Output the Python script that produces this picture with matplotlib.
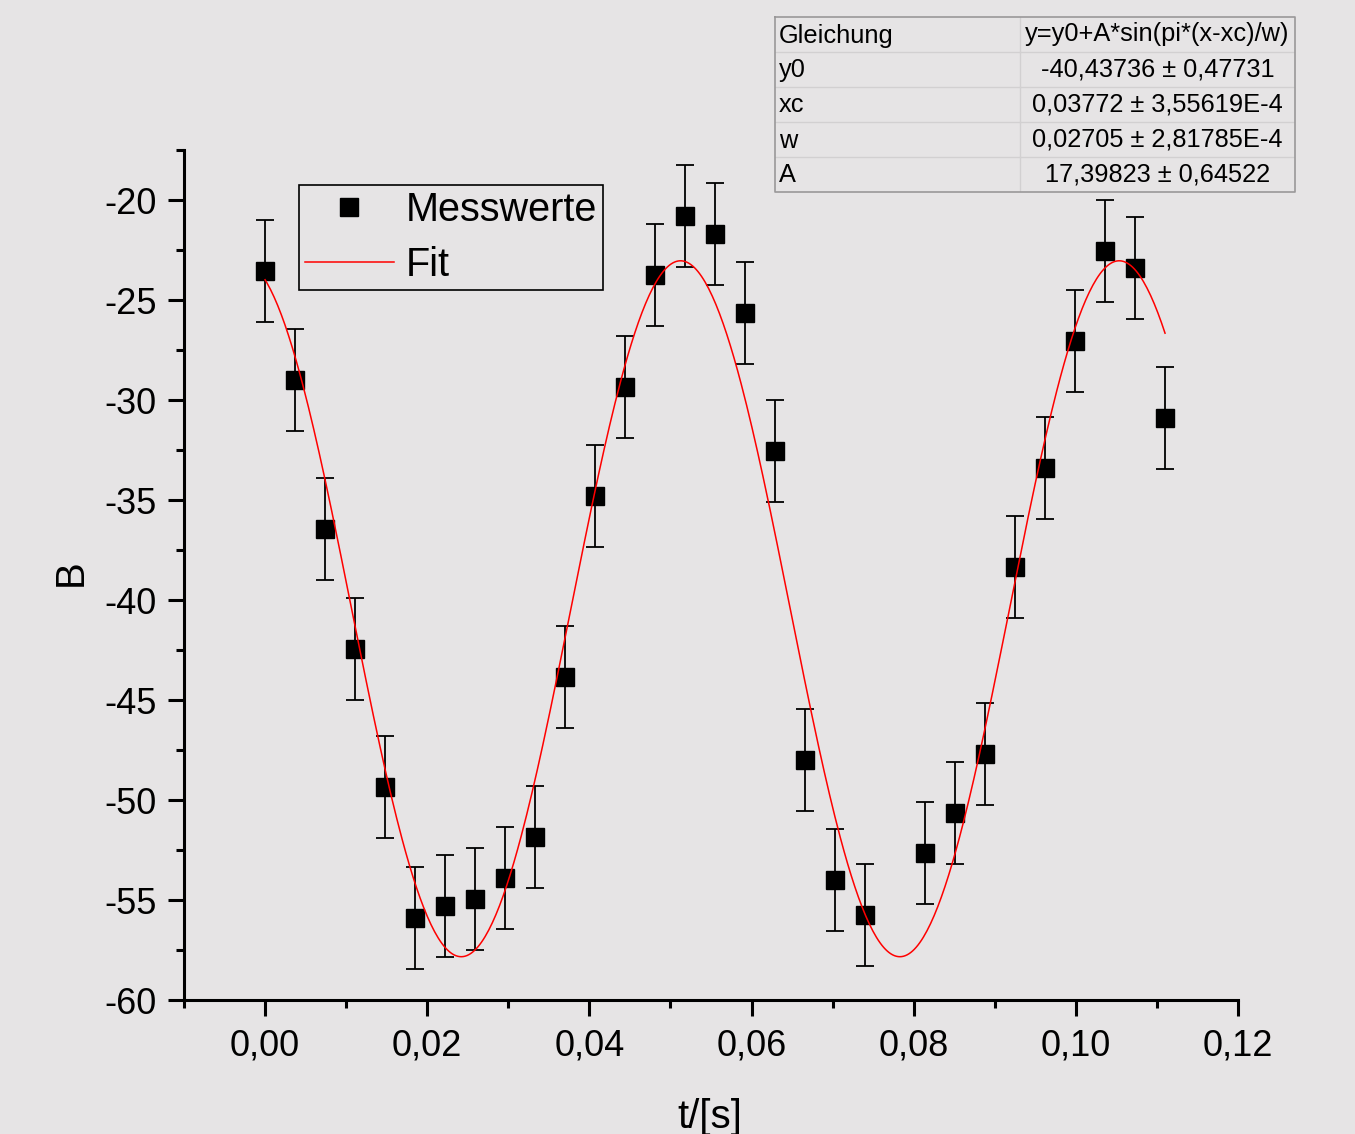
import numpy as np
import matplotlib.pyplot as plt
from matplotlib.lines import Line2D
from matplotlib.ticker import MultipleLocator, FuncFormatter

plt.rcParams['font.family'] = ['Liberation Sans', 'DejaVu Sans']

# Messwerte (t in s, B)
t = [0.0, 0.0037, 0.0074, 0.0111, 0.0148, 0.0185, 0.0222, 0.0259, 0.0296, 0.0333,
     0.0370, 0.0407, 0.0444, 0.0481, 0.0518, 0.0555, 0.0592, 0.0629, 0.0666, 0.0703,
     0.0740, 0.0814, 0.0851, 0.0888, 0.0925, 0.0962, 0.0999, 0.1036, 0.1073, 0.1110]
B = [-23.55, -29.0, -36.45, -42.45, -49.35, -55.9, -55.3, -54.95, -53.9, -51.85,
     -43.85, -34.8, -29.35, -23.75, -20.8, -21.7, -25.65, -32.55, -48.0, -54.0,
     -55.75, -52.65, -50.65, -47.7, -38.35, -33.4, -27.05, -22.55, -23.4, -30.9]
B_err = 2.55

# Fitparameter (aus der Tabelle)
y0 = -40.43736
xc = 0.03772
w = 0.02705
A = 17.39823

table_rows = [
    ['Gleichung', 'y=y0+A*sin(pi*(x-xc)/w)'],
    ['y0', '-40,43736 \u00b1 0,47731'],
    ['xc', '0,03772 \u00b1 3,55619E-4'],
    ['w', '0,02705 \u00b1 2,81785E-4'],
    ['A', '17,39823 \u00b1 0,64522'],
]

bg = '#e6e4e5'
W, H = 1355, 1134
fig = plt.figure(figsize=(W / 100, H / 100), dpi=100, facecolor=bg)
ax = fig.add_axes([184 / W, 1 - 1000 / H, (1238 - 184) / W, 850 / H], facecolor=bg)

ax.errorbar(t, B, yerr=B_err, fmt='s', color='black', ms=13, elinewidth=1.3,
            ecolor='black', capsize=6.5, capthick=1.3, zorder=3)

tf = np.linspace(t[0], t[-1], 500)
Bf = y0 + A * np.sin(np.pi * (tf - xc) / w)
ax.plot(tf, Bf, color='red', lw=1.1, zorder=4)

ax.set_xlim(-0.01, 0.12)
ax.set_ylim(-60, -17.5)
for s in ['top', 'right']:
    ax.spines[s].set_visible(False)
for s in ['left', 'bottom']:
    ax.spines[s].set_linewidth(2.2)

ax.xaxis.set_major_locator(MultipleLocator(0.02))
ax.xaxis.set_minor_locator(MultipleLocator(0.01))
ax.yaxis.set_major_locator(MultipleLocator(5))
ax.yaxis.set_minor_locator(MultipleLocator(2.5))
ax.xaxis.set_major_formatter(FuncFormatter(lambda v, p: f'{v:.2f}'.replace('.', ',').replace('-0,00', '0,00')))
ax.yaxis.set_major_formatter(FuncFormatter(lambda v, p: f'{v:.0f}'))
ax.tick_params(which='major', direction='out', length=11.5, width=2.2, labelsize=26)
ax.tick_params(which='minor', direction='out', length=6, width=2.2)
ax.tick_params(axis='y', pad=8)
ax.tick_params(axis='x', pad=9)

fig.text(71 / W, 1 - 573 / H, 'B', rotation=90, ha='center', va='center', fontsize=29)
fig.text(710 / W, 1 - 1128 / H, 't/[s]', ha='center', va='baseline', fontsize=29)

handles = [Line2D([], [], marker='s', ls='none', color='black', ms=13),
           Line2D([], [], color='red', lw=1.1)]
leg = ax.legend(handles, ['Messwerte', 'Fit'], loc='upper left',
                bbox_to_anchor=(299 / W, 1 - 185 / H), bbox_transform=fig.transFigure,
                borderaxespad=0, fontsize=28.5, frameon=True, fancybox=False,
                edgecolor='black', facecolor=bg, framealpha=1, handlelength=2.25,
                handletextpad=0.3, borderpad=0.15, labelspacing=0.42)
leg.get_frame().set_linewidth(1.2)

# Ergebnistabelle oben rechts
tx0, tx1, tdiv = 775, 1295, 1020
ty0, rh = 17, 35
tab = fig.add_axes([tx0 / W, 1 - (ty0 + rh * len(table_rows)) / H,
                    (tx1 - tx0) / W, rh * len(table_rows) / H])
tab.set_xlim(tx0, tx1)
tab.set_ylim(ty0 + rh * len(table_rows), ty0)
tab.axis('off')
for i, (name, val) in enumerate(table_rows):
    yc = ty0 + rh * (i + 0.5)
    tab.text(tx0 + 4, yc + 1, name, ha='left', va='center', fontsize=18.3)
    tab.text((tdiv + tx1) / 2, yc, val, ha='center', va='center', fontsize=18.3)
    if i > 0:
        tab.plot([tx0, tx1], [ty0 + rh * i] * 2, color='#d2d0d1', lw=1)
tab.plot([tdiv, tdiv], [ty0, ty0 + rh * len(table_rows)], color='#d2d0d1', lw=1)
tab.plot([tx0, tx1, tx1, tx0, tx0],
         [ty0, ty0, ty0 + rh * len(table_rows), ty0 + rh * len(table_rows), ty0],
         color='#9a9899', lw=1.2, clip_on=False)

fig.savefig('out.png', dpi=100, facecolor=bg)
